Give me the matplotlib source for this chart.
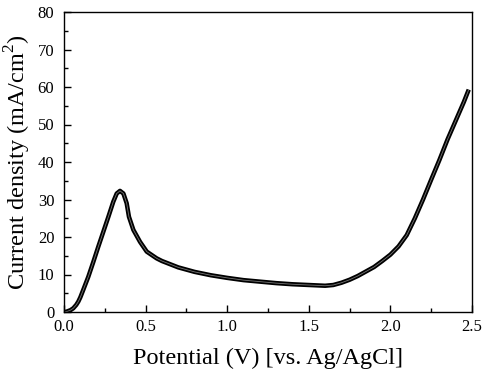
import numpy as np
import matplotlib
matplotlib.use("Agg")
import matplotlib.pyplot as plt
from matplotlib.ticker import MultipleLocator, FormatStrFormatter

# potential (V vs Ag/AgCl) and current density (mA/cm2)
potential = [0.00, 0.016, 0.04, 0.057, 0.075, 0.088, 0.10, 0.118, 0.149, 0.18,
             0.21, 0.241, 0.272, 0.302, 0.323, 0.343, 0.364, 0.384, 0.398, 0.425,
             0.466, 0.507, 0.568, 0.60, 0.70, 0.80, 0.90, 1.00, 1.10, 1.20,
             1.30, 1.40, 1.50, 1.60, 1.65, 1.70, 1.75, 1.80, 1.85, 1.90,
             1.95, 2.00, 2.05, 2.10, 2.15, 2.20, 2.25, 2.30, 2.35, 2.40,
             2.45, 2.48]
current = [0.0, 0.1, 0.5, 1.0, 1.9, 2.8, 3.9, 5.9, 9.4, 13.4,
           17.4, 21.4, 25.4, 29.4, 31.6, 32.3, 31.6, 29.0, 25.4, 21.9,
           18.7, 16.1, 14.3, 13.6, 11.9, 10.7, 9.8, 9.1, 8.5, 8.1,
           7.7, 7.4, 7.2, 7.0, 7.2, 7.8, 8.6, 9.6, 10.8, 12.0,
           13.6, 15.3, 17.5, 20.5, 25.0, 30.0, 35.3, 40.5, 46.0, 51.0,
           56.0, 59.3]

plt.rcParams['font.family'] = ['Liberation Serif', 'DejaVu Serif']
plt.rcParams['mathtext.fontset'] = 'custom'
plt.rcParams['mathtext.rm'] = 'Liberation Serif'

fig = plt.figure(figsize=(4.84, 3.76), dpi=100)
ax = fig.add_axes([64/484, 1 - 312/376, 408/484, 300/376])

ax.plot(potential, current, color='black', lw=3.2, solid_capstyle='butt')
ax.plot(potential, current, color='#777777', lw=0.6)

ax.set_xlim(0, 2.5)
ax.set_ylim(0, 80)
ax.xaxis.set_major_locator(MultipleLocator(0.5))
ax.xaxis.set_minor_locator(MultipleLocator(0.25))
ax.yaxis.set_major_locator(MultipleLocator(10))
ax.yaxis.set_minor_locator(MultipleLocator(5))
ax.tick_params(which='both', direction='in', top=False, right=False, labelsize=12)
ax.tick_params(which='major', length=5, width=1)
ax.tick_params(which='minor', length=3, width=1)
ax.tick_params(axis='x', pad=5)
ax.tick_params(axis='y', pad=7)
ax.xaxis.set_major_formatter(FormatStrFormatter('%.1f'))
for s in ax.spines.values():
    s.set_linewidth(1.0)

ax.set_xlabel('Potential (V) [vs. Ag/AgCl]', fontsize=17.5, labelpad=9)
ax.set_ylabel('Current density (mA/cm$^\\mathrm{2}$)', fontsize=17.5, labelpad=3)

fig.savefig('out.png', dpi=100)
